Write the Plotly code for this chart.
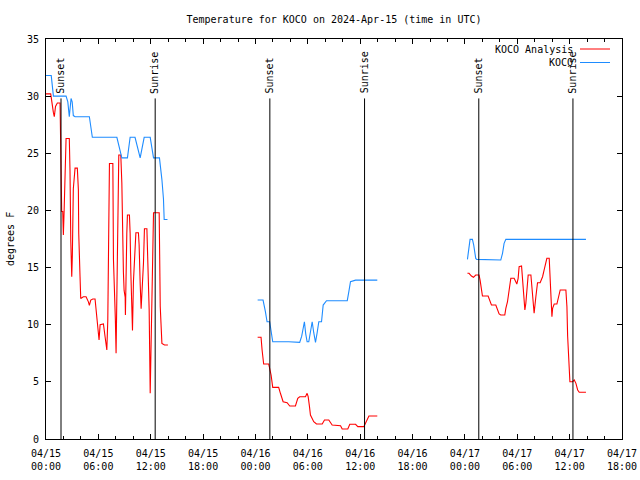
import plotly.graph_objects as go
import pandas as pd

# ---------------- data ----------------
BASE = pd.Timestamp("2024-04-15 00:00")

# KOCO Analysis (red), hours since 2024-04-15 00:00 UTC, degrees F
red1_h = [0.0, 0.54, 0.84, 0.95, 1.09, 1.30, 1.61, 1.80, 1.92, 1.99, 2.07, 2.30, 2.67, 2.75, 2.84, 2.95, 3.02,
          3.05, 3.13, 3.33, 3.59, 3.71, 3.75, 3.90, 3.98, 4.28, 4.59, 4.86, 4.97, 5.13, 5.36, 5.62, 5.82, 6.00,
          6.08, 6.20, 6.58, 6.77, 6.85, 6.97, 7.08, 7.15, 7.27, 7.66, 7.73, 7.95, 8.03, 8.18, 8.34, 8.57, 8.69,
          8.87, 8.95, 9.07, 9.10, 9.26, 9.33, 9.56, 9.64, 9.72, 9.91, 10.02, 10.22, 10.30, 10.59, 10.67, 10.79,
          10.90, 11.17, 11.28, 11.56, 11.67, 11.82, 11.94, 12.20, 12.32, 12.97, 13.09, 13.28, 13.46, 13.58, 13.97]
red1_f = [30.2, 30.2, 28.6, 28.2, 29.1, 29.4, 29.4, 19.9, 19.9, 17.85, 19.8, 26.3, 26.3, 23.5, 17.3, 14.2, 16.1,
          19.0, 21.9, 23.7, 23.7, 21.8, 18.0, 14.2, 12.3, 12.45, 12.45, 12.0, 11.7, 12.16, 12.25, 12.25, 10.4, 9.25,
          8.66, 10.0, 10.06, 8.95, 8.2, 7.8, 10.4, 15.95, 24.1, 24.1, 15.7, 10.4, 7.5, 15.95, 24.85, 24.85, 22.4,
          14.6, 13.0, 12.4, 10.85, 18.0, 19.6, 19.6, 18.0, 14.6, 9.5, 13.8, 16.5, 18.05, 18.05, 17.0, 13.6,
          11.4, 15.4, 18.4, 18.4, 15.95, 11.3, 4.0, 17.26, 19.8, 19.8, 11.6, 8.37, 8.3, 8.22, 8.22]

red2_h = [24.25, 24.64, 24.76, 24.94, 25.52, 25.65, 25.79, 25.98, 26.66, 26.86, 27.17, 27.63, 27.93, 28.58,
          28.85, 29.07, 29.73, 29.92, 30.04, 30.19, 30.3, 30.68, 30.99, 31.65, 31.91, 32.4, 32.79, 33.75, 33.94,
          34.58, 34.81, 35.47, 35.73, 36.42, 36.81, 37.0, 37.96]
red2_f = [8.9, 8.9, 7.79, 6.56, 6.56, 6.2, 5.6, 4.52, 4.52, 4.0, 3.26, 3.18, 2.89, 2.89, 3.56, 3.7, 3.7, 4.0,
          3.7, 2.83, 2.1, 1.51, 1.31, 1.31, 1.66, 1.66, 1.22, 1.16, 0.87, 0.87, 1.29, 1.29, 1.08, 1.08, 1.66,
          2.01, 2.01]

red3_h = [48.29, 48.47, 48.75, 48.98, 49.24, 49.62, 49.74, 49.9, 50.01, 50.66, 50.88, 51.04, 51.54, 51.73,
          51.92, 52.11, 52.57, 52.69, 52.88, 53.07, 53.26, 53.64, 53.83, 53.95, 54.1, 54.21, 54.49, 54.6, 54.79,
          54.87, 54.98, 55.18, 55.25, 55.56, 55.75, 55.93, 56.13, 56.32, 56.62, 56.9, 57.08, 57.28, 57.39, 57.66,
          57.85, 57.97, 58.05, 58.23, 58.54, 58.69, 58.92, 59.57, 59.69, 59.77, 59.95, 60.03, 60.34, 60.53,
          60.72, 60.92, 61.1, 61.87]
red3_f = [14.5, 14.5, 14.26, 14.15, 14.35, 14.35, 13.9, 12.89, 12.51, 12.51, 12.01, 11.72, 11.72, 11.29,
          10.94, 10.85, 10.85, 11.43, 12.01, 13.04, 14.06, 14.06, 13.76, 13.56, 14.06, 15.07, 15.14, 14.2, 12.45,
          11.29, 11.87, 13.9, 14.35, 14.35, 12.45, 11.0, 12.45, 13.67, 13.67, 14.2, 14.79, 15.66, 15.81, 15.81,
          13.18, 10.7, 11.43, 11.81, 11.81, 12.31, 13.04, 13.04, 11.57, 9.01, 6.33, 5.01, 5.01, 5.16,
          4.87, 4.29, 4.09, 4.09]

# KOCO observations (blue)
blue1_h = [0.0, 0.6, 0.85, 2.3, 2.5, 2.67, 2.87, 3.0, 3.13, 3.33, 4.97, 5.31, 8.12, 8.69, 9.33, 9.64, 10.2,
           10.79, 11.25, 11.94, 12.32, 13.0, 13.28, 13.46, 13.54, 13.92]
blue1_f = [31.8, 31.8, 30.0, 30.0, 29.5, 28.2, 29.8, 29.5, 28.3, 28.2, 28.2, 26.4, 26.4, 24.6, 24.6, 26.4, 26.4,
           24.6, 26.4, 26.4, 24.6, 24.6, 22.7, 21.0, 19.2, 19.2]

blue2_h = [24.25, 24.87, 25.14, 25.33, 25.63, 25.79, 25.98, 27.81, 29.07, 29.3, 29.46, 29.61, 29.76, 29.92,
           30.11, 30.3, 30.5, 30.68, 30.88, 31.07, 31.26, 31.57, 31.76, 32.14, 32.79, 34.52, 34.7, 34.89,
           35.47, 37.96]
blue2_f = [12.16, 12.16, 11.14, 10.26, 10.26, 9.25, 8.51, 8.51, 8.46, 9.0, 9.54, 10.26, 9.2, 8.51, 8.51, 9.54,
           10.26, 9.3, 8.46, 9.3, 10.26, 10.26, 11.72, 12.1, 12.1, 12.1, 12.89, 13.76, 13.9, 13.9]

blue3_h = [48.29, 48.47, 48.59, 48.86, 49.01, 49.24, 49.36, 52.11, 52.31, 52.49, 52.69, 61.87]
blue3_f = [15.72, 16.97, 17.47, 17.47, 16.97, 15.8, 15.72, 15.66, 16.25, 17.12, 17.47, 17.47]

# Sun events
sun_h = [1.72, 12.51, 25.65, 36.5, 49.59, 60.38]
sun_labels = ["Sunset", "Sunrise", "Sunset", "Sunrise", "Sunset", "Sunrise"]
sun_line_top = 29.8

# Axis ticks
tick_h = [0, 6, 12, 18, 24, 30, 36, 42, 48, 54, 60, 66]
tick_labels = ["04/15<br>00:00", "04/15<br>06:00", "04/15<br>12:00", "04/15<br>18:00",
               "04/16<br>00:00", "04/16<br>06:00", "04/16<br>12:00", "04/16<br>18:00",
               "04/17<br>00:00", "04/17<br>06:00", "04/17<br>12:00", "04/17<br>18:00"]

series_names = ["KOCO Analysis", "KOCO"]
series_colors = ["#ff0000", "#1e8cff"]


def T(h):
    return BASE + pd.Timedelta(hours=h)


def join(segs):
    xs, ys = [], []
    for hs, fs in segs:
        xs += [T(h) for h in hs] + [None]
        ys += list(fs) + [None]
    return xs, ys


FONT = "DejaVu Sans Mono"
W, H = 640, 480
L, R, TOP, B = 46, 18, 39, 41
pw = W - L - R
ph = H - TOP - B

fig = go.Figure()

rx, ry = join([(red1_h, red1_f), (red2_h, red2_f), (red3_h, red3_f)])
bx, by = join([(blue1_h, blue1_f), (blue2_h, blue2_f), (blue3_h, blue3_f)])

fig.add_trace(go.Scatter(x=rx, y=ry, mode="lines", name=series_names[0],
                         line=dict(color=series_colors[0], width=1.1), connectgaps=False,
                         showlegend=False))
fig.add_trace(go.Scatter(x=bx, y=by, mode="lines", name=series_names[1],
                         line=dict(color=series_colors[1], width=1.1), connectgaps=False,
                         showlegend=False))

shapes = []
annotations = []
for h, lab in zip(sun_h, sun_labels):
    shapes.append(dict(type="line", xref="x", yref="y", x0=T(h), x1=T(h), y0=0, y1=sun_line_top,
                       line=dict(color="black", width=1)))
    annotations.append(dict(x=T(h), y=30.3, xref="x", yref="y", yshift=-3, text=lab, textangle=-90,
                            showarrow=False, xanchor="center", yanchor="bottom",
                            font=dict(family=FONT, size=10, color="black")))

# manual gnuplot-style key (text left of sample)
key_rows = [49, 62.5]
for name, color, ypx in zip(series_names, series_colors, key_rows):
    yp = (H - B - ypx) / ph
    annotations.append(dict(x=(575 - L) / pw, y=yp, xref="paper", yref="paper", text=name,
                            showarrow=False, xanchor="right", yanchor="middle",
                            font=dict(family=FONT, size=10, color="black")))
    shapes.append(dict(type="line", xref="paper", yref="paper", x0=(580 - L) / pw, x1=(610 - L) / pw,
                       y0=yp, y1=yp, line=dict(color=color, width=1)))

# y axis title
annotations.append(dict(x=0, y=0.5, xref="paper", yref="paper", xshift=-36, text="degrees F",
                        textangle=-90, showarrow=False, xanchor="center", yanchor="middle",
                        font=dict(family=FONT, size=10, color="black")))

fig.update_layout(
    width=W, height=H,
    margin=dict(l=L, r=R, t=TOP, b=B, autoexpand=False),
    paper_bgcolor="white", plot_bgcolor="white",
    font=dict(family=FONT, size=10, color="black"),
    title=dict(text="Temperature for KOCO on 2024-Apr-15 (time in UTC)", x=0.5, xref="paper",
               y=1 - 19 / H, yref="container", xanchor="center", yanchor="middle",
               font=dict(family=FONT, size=10, color="black")),
    showlegend=False,
    hovermode=False,
    shapes=shapes,
    annotations=annotations,
)

fig.update_xaxes(
    type="date", range=[T(0), T(66)],
    tickvals=[T(h) for h in tick_h], ticktext=tick_labels,
    ticks="inside", ticklen=5, tickcolor="black", tickwidth=1,
    ticklabelstandoff=5,
    minor=dict(dtick=2 * 3600 * 1000, ticks="inside", ticklen=3, tickcolor="black", tickwidth=1,
               showgrid=False),
    showline=True, linecolor="black", linewidth=1, mirror="ticks",
    showgrid=False, zeroline=False,
    tickfont=dict(family=FONT, size=10, color="black"),
)
fig.update_yaxes(
    range=[0, 35], tickvals=[0, 5, 10, 15, 20, 25, 30, 35],
    ticks="inside", ticklen=5, tickcolor="black", tickwidth=1,
    ticklabelstandoff=4,
    showline=True, linecolor="black", linewidth=1, mirror="ticks",
    showgrid=False, zeroline=False,
    tickfont=dict(family=FONT, size=10, color="black"),
)

fig.write_html("out.html", config={"displayModeBar": False, "staticPlot": True},
               post_script="document.body.style.margin='0';document.body.style.overflow='hidden';")
